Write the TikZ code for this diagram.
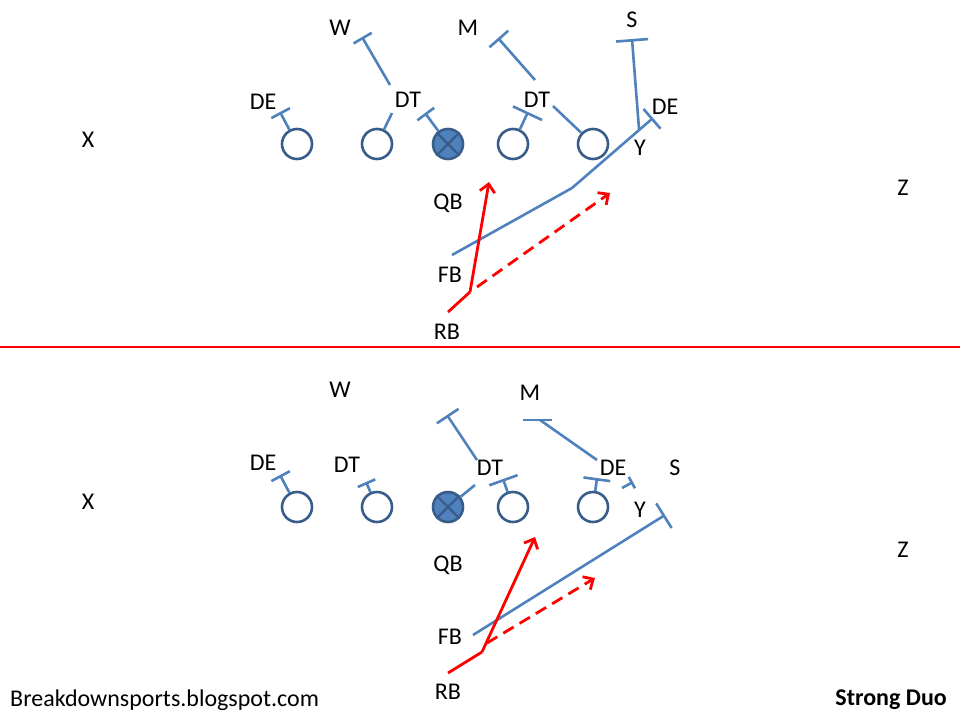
\documentclass[tikz,border=0pt]{standalone}
\usepackage{fontspec}
\setmainfont{Carlito}
\usepackage{tikz}
\usetikzlibrary{arrows.meta}
\definecolor{playerblue}{RGB}{56, 93, 138}
\definecolor{blockblue}{RGB}{79, 129, 189}
\definecolor{runred}{RGB}{255, 0, 0}

\begin{document}
\begin{tikzpicture}[x=1pt, y=-1pt,
    player/.style={circle,draw=playerblue,line width=2.6pt,minimum size=30pt,inner sep=0pt},
    snapper/.style={player,fill=blockblue},
    lbl/.style={font=\fontsize{24}{26}\selectfont,inner sep=0pt},
    route/.style={blockblue,line width=2.6pt},
    block/.style={route,-{Bar[width=#1]}},
    block/.default=21pt,
    run/.style={runred,line width=2.8pt,-{Straight Barb[length=8pt,width=15pt]}},
    fake/.style={run,dash pattern=on 12pt off 7pt}]

    \useasboundingbox (0,0) rectangle (960,720);

    % ---------- Top play ----------
    % Offensive line
    \node[player] at (297,144) (tl1) {};
    \node[player] at (377,144) (tl2) {};
    \node[snapper] at (448,144) (tc) {};
    \node[player] at (513,144) (tr2) {};
    \node[player] at (593,144) (tr1) {};
    \draw[playerblue,line width=2.2pt] (tc.45) -- (tc.225) (tc.135) -- (tc.315);

    % Labels
    \node[lbl] at (88,140) (tX) {X};
    \node[lbl] at (903,188) (tZ) {Z};
    \node[lbl] at (340,28) (tW) {W};
    \node[lbl] at (468,28) (tM) {M};
    \node[lbl] at (632,20) (tS) {S};
    \node[lbl] at (263,102) (tDE1) {DE};
    \node[lbl] at (408,100) (tDT1) {DT};
    \node[lbl] at (537,100) (tDT2) {DT};
    \node[lbl] at (665,107) (tDE2) {DE};
    \node[lbl] at (640,148) (tY) {Y};
    \node[lbl] at (448,203) (tQB) {QB};
    \node[lbl] at (450,275) (tFB) {FB};
    \node[lbl] at (447,332) (tRB) {RB};

    % Blocks
    \coordinate (tk1) at (280,112);
    \draw[block] (tl1) -- (tk1);
    \coordinate (tk2) at (392,113);
    \draw[route] (tl2) -- (tk2);
    \coordinate (tw1) at (390,85);
    \coordinate (tw2) at (362,37);
    \draw[block] (tw1) -- (tw2);
    \coordinate (tk3) at (425,113);
    \draw[block] (tc) -- (tk3);
    \coordinate (tk4) at (528,112);
    \draw[block=32pt] (tr2) -- (tk4);
    \coordinate (tm1) at (535,80);
    \coordinate (tm2) at (498,38);
    \draw[block=25pt] (tm1) -- (tm2);
    \coordinate (tk5) at (553,106);
    \draw[route] (tr1) -- (tk5);
    \coordinate (ts1) at (639,129);
    \coordinate (ts2) at (632,39);
    \draw[block=32pt] (ts1) -- (ts2);
    \coordinate (tf1) at (452,255);
    \coordinate (tf2) at (572,188);
    \coordinate (tf3) at (653,118);
    \draw[block=26pt] (tf1) -- (tf2) -- (tf3);

    % Runs
    \coordinate (trb) at (448,312);
    \coordinate (tcut) at (470,292);
    \coordinate (tdive) at (489,182);
    \coordinate (tfk1) at (477,287);
    \coordinate (tfk2) at (610,193);
    \draw[runred,line width=2.8pt] (trb) -- (tcut);
    \draw[run] (tcut) -- (tdive);
    \draw[fake] (tfk1) -- (tfk2);

    % Divider
    \coordinate (divL) at (0,347);
    \coordinate (divR) at (960,347);
    \draw[runred,line width=2.4pt] (divL) -- (divR);

    % ---------- Bottom play ----------
    % Offensive line
    \node[player] at (297,507) (bl1) {};
    \node[player] at (377,507) (bl2) {};
    \node[snapper] at (448,507) (bc) {};
    \node[player] at (513,507) (br2) {};
    \node[player] at (593,507) (br1) {};
    \draw[playerblue,line width=2.2pt] (bc.45) -- (bc.225) (bc.135) -- (bc.315);

    % Labels
    \node[lbl] at (88,502) (bX) {X};
    \node[lbl] at (903,550) (bZ) {Z};
    \node[lbl] at (340,390) (bW) {W};
    \node[lbl] at (530,393) (bM) {M};
    \node[lbl] at (675,468) (bS) {S};
    \node[lbl] at (263,463) (bDE1) {DE};
    \node[lbl] at (347,465) (bDT1) {DT};
    \node[lbl] at (490,468) (bDT2) {DT};
    \node[lbl] at (613,468) (bDE2) {DE};
    \node[lbl] at (640,510) (bY) {Y};
    \node[lbl] at (448,565) (bQB) {QB};
    \node[lbl] at (450,637) (bFB) {FB};
    \node[lbl] at (448,692) (bRB) {RB};

    % Blocks
    \coordinate (bk1) at (280,475);
    \draw[block] (bl1) -- (bk1);
    \coordinate (bk2) at (366,482);
    \draw[block=19pt] (bl2) -- (bk2);
    \coordinate (bk3) at (475,485);
    \draw[route] (bc) -- (bk3);
    \coordinate (bd1) at (477,460);
    \coordinate (bd2) at (447,415);
    \draw[block=26pt] (bd1) -- (bd2);
    \coordinate (bk4) at (503,479);
    \draw[block=30pt] (br2) -- (bk4);
    \coordinate (bm1) at (597,460);
    \coordinate (bm2) at (540,420);
    \coordinate (bmL) at (523,420);
    \coordinate (bmR) at (552,420);
    \draw[route] (bm1) -- (bm2);
    \draw[route] (bmL) -- (bmR);
    \coordinate (bk5) at (597,478);
    \draw[block=27pt] (br1) -- (bk5);
    \coordinate (bs1) at (622,488);
    \coordinate (bs2) at (633,482);
    \draw[block=13pt] (bs1) -- (bs2);
    \coordinate (bf1) at (473,635);
    \coordinate (bf2) at (665,515);
    \draw[block=29pt] (bf1) -- (bf2);

    % Runs
    \coordinate (brb) at (448,673);
    \coordinate (bcut) at (482,652);
    \coordinate (bdive) at (535,537);
    \coordinate (bfk1) at (487,643);
    \coordinate (bfk2) at (595,578);
    \draw[runred,line width=2.8pt] (brb) -- (bcut);
    \draw[run] (bcut) -- (bdive);
    \draw[fake] (bfk1) -- (bfk2);

    % Footer
    \node[lbl,anchor=west] at (10,700) (site) {Breakdownsports.blogspot.com};
    \node[lbl,anchor=east,font=\fontsize{24}{26}\selectfont\bfseries] at (947,700) (title) {Strong Duo};

\end{tikzpicture}
\end{document}
